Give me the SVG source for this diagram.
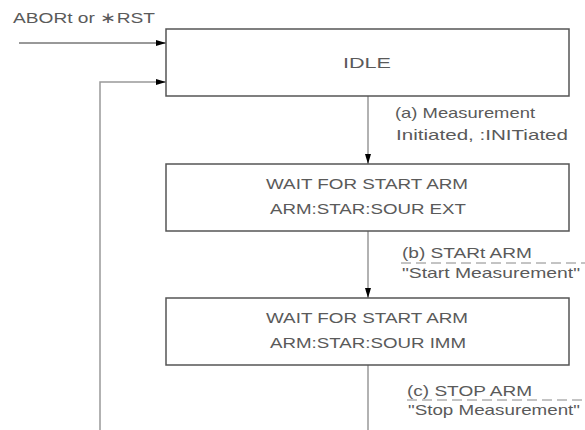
<svg xmlns="http://www.w3.org/2000/svg" width="585" height="430" viewBox="0 0 585 430">
<style>
text{font-family:"Liberation Sans",Arial,sans-serif;font-size:15px;fill:#5a5a5a}
.c{text-anchor:middle}
.box{fill:#fff;stroke:#555;stroke-width:1.5}
.ln{fill:none;stroke:#999;stroke-width:1.5}
.dk{fill:none;stroke:#333;stroke-width:1}
.dash{fill:none;stroke:#888;stroke-width:1;stroke-dasharray:10,5}
</style>
<defs>
<marker id="ah" viewBox="0 0 10 6" refX="10" refY="3" markerWidth="10" markerHeight="6" markerUnits="userSpaceOnUse" orient="auto">
<path d="M0,0 L10,3 L0,6 Z" fill="#000"/>
</marker>
</defs>
<g id="connectors">
<line class="dk" x1="19" y1="43" x2="166" y2="43" marker-end="url(#ah)"/>
<polyline class="ln" points="100,430 100,82 166,82" marker-end="url(#ah)"/>
<line class="ln" x1="368" y1="96" x2="368" y2="164" marker-end="url(#ah)"/>
<line class="ln" x1="368" y1="231" x2="368" y2="298" marker-end="url(#ah)"/>
<line class="ln" x1="368" y1="365" x2="368" y2="430"/>
</g>
<g id="label-abort"><text x="13" y="23" font-size="16" textLength="142" lengthAdjust="spacingAndGlyphs">ABORt or ∗RST</text></g>
<g id="idle">
<rect class="box" x="166" y="29" width="403" height="67"/>
<text class="c" x="367" y="68" textLength="48" lengthAdjust="spacingAndGlyphs">IDLE</text>
</g>
<g id="label-a">
<text x="395" y="118" textLength="140" lengthAdjust="spacingAndGlyphs">(a) Measurement</text>
<text x="396" y="140" textLength="172" lengthAdjust="spacingAndGlyphs">Initiated, :INITiated</text>
</g>
<g id="wait-ext">
<rect class="box" x="166" y="164" width="403" height="67"/>
<text class="c" x="367" y="189" textLength="202" lengthAdjust="spacingAndGlyphs">WAIT FOR START ARM</text>
<text class="c" x="368" y="214" textLength="196" lengthAdjust="spacingAndGlyphs">ARM:STAR:SOUR EXT</text>
</g>
<g id="label-b">
<text x="402" y="258" textLength="130" lengthAdjust="spacingAndGlyphs">(b) STARt ARM</text>
<line class="dash" x1="401" y1="263" x2="585" y2="263"/>
<text x="402" y="278" textLength="178" lengthAdjust="spacingAndGlyphs">"Start Measurement"</text>
</g>
<g id="wait-imm">
<rect class="box" x="166" y="298" width="403" height="67"/>
<text class="c" x="367" y="323" textLength="202" lengthAdjust="spacingAndGlyphs">WAIT FOR START ARM</text>
<text class="c" x="368" y="348" textLength="196" lengthAdjust="spacingAndGlyphs">ARM:STAR:SOUR IMM</text>
</g>
<g id="label-c">
<text x="407" y="396" textLength="125" lengthAdjust="spacingAndGlyphs">(c) STOP ARM</text>
<line class="dash" x1="407" y1="400" x2="585" y2="400"/>
<text x="408" y="415" textLength="172" lengthAdjust="spacingAndGlyphs">"Stop Measurement"</text>
</g>
</svg>
